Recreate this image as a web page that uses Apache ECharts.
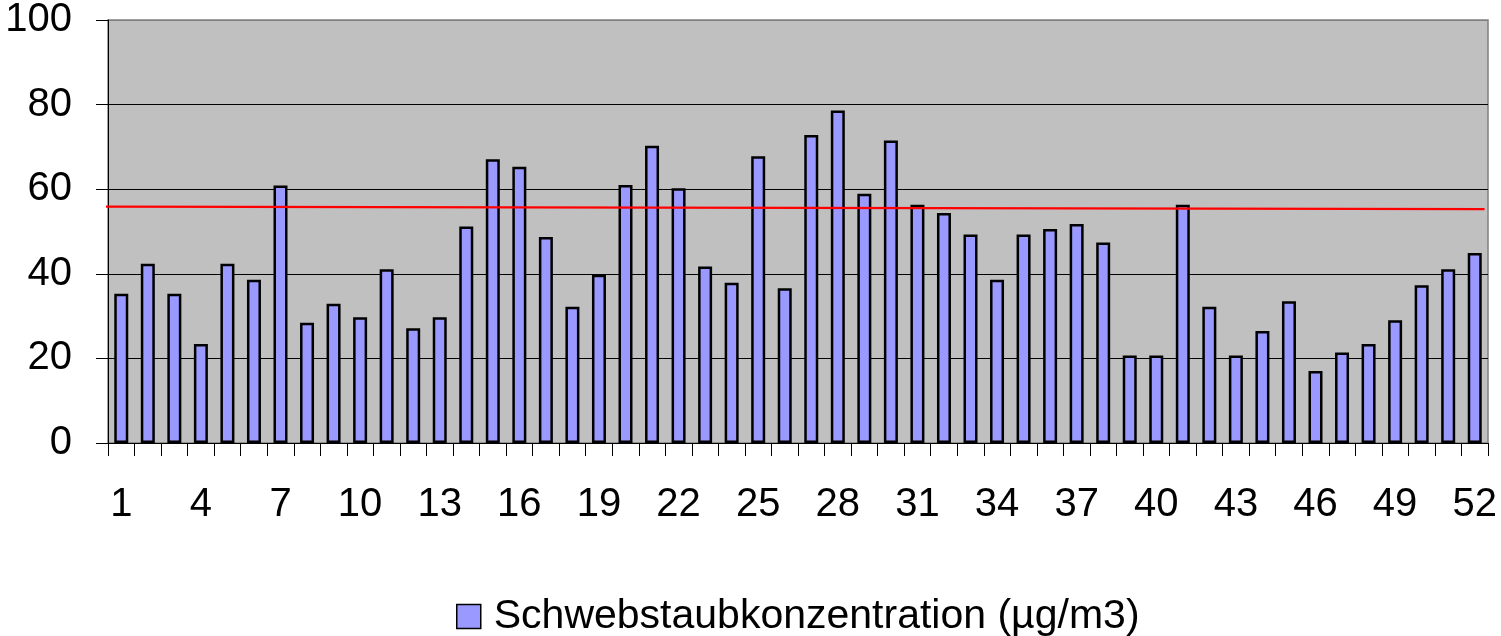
<!DOCTYPE html>
<html>
<head>
<meta charset="utf-8">
<script src="https://cdn.jsdelivr.net/npm/echarts@6/dist/echarts.min.js"></script>
<style>
html,body{margin:0;padding:0;background:#fff;}
#chart{width:1501px;height:636px;}
</style>
</head>
<body>
<div id="chart"></div>
<script>
var categories = [];
for (var i = 1; i <= 52; i++) categories.push(String(i));
var seriesName = 'Schwebstaubkonzentration (µg/m3)';
var values = [35.3, 42.4, 35.3, 23.4, 42.4, 38.6, 60.9, 28.4, 32.9, 29.7,
  41.1, 27.1, 29.7, 51.2, 67.1, 65.3, 48.7, 32.2, 39.8, 61.0,
  70.3, 60.2, 41.7, 37.9, 67.8, 36.6, 72.8, 78.6, 58.9, 71.5,
  56.3, 54.4, 49.3, 38.6, 49.3, 50.6, 51.8, 47.4, 20.7, 20.7,
  56.3, 32.2, 20.7, 26.5, 33.5, 17.0, 21.4, 23.4, 29.0, 37.3, 41.1, 44.9];
var trendX = [0.35, 52.37];
var trendY = [55.9, 55.3];
var yTicks = [0, 20, 40, 60, 80, 100];

var chart = echarts.init(document.getElementById('chart'));
var fontFam = '"Liberation Sans", Arial, sans-serif';
chart.setOption({
  animation: false,
  backgroundColor: '#ffffff',
  grid: {
    left: 108, right: 13, top: 20, bottom: 193,
    show: true, backgroundColor: '#C0C0C0', borderColor: '#808080', borderWidth: 1.5
  },
  legend: {
    data: [seriesName],
    left: 451, top: 591,
    itemWidth: 24, itemHeight: 24,
    icon: 'rect',
    itemStyle: { color: '#9999FF', borderColor: '#000', borderWidth: 1.5 },
    textStyle: { fontFamily: fontFam, fontSize: 41, color: '#000', padding: [0, 0, 0, 8] }
  },
  xAxis: [{
    type: 'category',
    data: categories,
    boundaryGap: true,
    axisLine: { show: true, lineStyle: { color: '#000', width: 1 } },
    axisTick: { show: true, interval: 0, length: 13, lineStyle: { color: '#000', width: 1 } },
    axisLabel: { interval: 2, margin: 42, fontFamily: fontFam, fontSize: 40, color: '#000' },
    splitLine: { show: false }
  }, {
    type: 'value', min: 0.5, max: 52.5, show: false
  }],
  yAxis: {
    type: 'value', min: yTicks[0], max: yTicks[yTicks.length - 1], interval: 20,
    axisLine: { show: true, lineStyle: { color: '#000', width: 1 } },
    axisTick: { show: true, length: 12, lineStyle: { color: '#000', width: 1 } },
    axisLabel: { margin: 36, fontFamily: fontFam, fontSize: 40, color: '#000' },
    splitLine: { show: true, lineStyle: { color: ['#000', '#000', '#000', '#000', '#000', '#808080'], width: 1 } }
  },
  series: [{
    name: seriesName,
    type: 'bar',
    data: values,
    barWidth: 14,
    itemStyle: { color: '#9999FF', borderColor: '#000', borderWidth: 2.5 }
  }, {
    name: 'Trend',
    type: 'line',
    xAxisIndex: 1,
    data: [[trendX[0], trendY[0]], [trendX[1], trendY[1]]],
    clip: false,
    symbol: 'none',
    silent: true,
    lineStyle: { color: '#FF0000', width: 2.2 },
    z: 5
  }]
});
</script>
</body>
</html>
